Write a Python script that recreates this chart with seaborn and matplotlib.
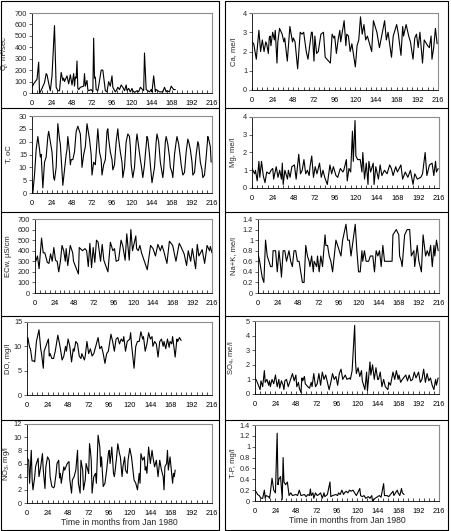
import numpy as np
import pandas as pd
import matplotlib
matplotlib.use('Agg')
import matplotlib.pyplot as plt
import seaborn as sns
from matplotlib.ticker import MultipleLocator

sns.set_style('white')
plt.rcParams['font.family'] = ['Liberation Sans', 'DejaVu Sans']
plt.rcParams['mathtext.fontset'] = 'custom'
plt.rcParams['mathtext.rm'] = 'Liberation Sans'
plt.rcParams['mathtext.it'] = 'Liberation Sans'

# Q, m3/sec
q_month = [0, 2, 4, 6, 8, 9, 10, 12, 15, 17, 18, 21, 22, 24, 27, 29, 31, 33, 35, 37, 38, 39, 42, 44, 46,
           48, 50, 51, 52, 53, 54, 55, 56, 58, 62, 63, 64, 66, 67, 68, 71, 73, 74, 75, 76, 77, 79, 80, 83,
           85, 88, 90, 92, 94, 96, 97, 100, 101, 103, 105, 107, 109, 111, 113, 114, 116, 118, 120, 121,
           123, 126, 128, 130, 134, 135, 137, 139, 141, 143, 144, 146, 148, 149, 151, 153, 157, 159, 161,
           162, 165, 167, 170, 172]
q_val = [50, 80, 100, 120, 270, 0, 10, 40, 90, 170, 160, 50, 20, 150, 590, 50, 20, 20, 180, 110, 130, 100,
         150, 80, 160, 70, 170, 60, 140, 130, 280, 40, 30, 50, 60, 170, 60, 110, 30, 20, 30, 10, 480, 130,
         140, 30, 20, 60, 200, 200, 20, 10, 100, 60, 150, 50, 10, 20, 50, 30, 70, 50, 20, 70, 20, 40, 10,
         40, 20, 5, 20, 10, 50, 20, 350, 30, 20, 10, 30, 10, 150, 10, 30, 20, 10, 10, 50, 10, 20, 10, 60,
         30, 30][:93]

# Ca, me/l
ca_month = [0, 2, 5, 8, 10, 12, 14, 16, 17, 19, 20, 21, 22, 24, 26, 27, 29, 30, 32, 35, 37, 38, 41, 44,
            47, 48, 50, 53, 56, 58, 60, 63, 65, 69, 70, 72, 73, 75, 77, 80, 83, 85, 87, 91, 93, 95, 96, 98,
            100, 102, 103, 107, 109, 110, 112, 114, 116, 120, 122, 124, 126, 128, 130, 132, 134, 139, 141,
            143, 145, 148, 154, 156, 158, 162, 164, 168, 170, 173, 175, 176, 179, 182, 184, 187, 189, 191,
            193, 195, 198, 200, 204, 206, 208, 209, 211, 213, 215]
ca_val = [2.5, 2.4, 1.6, 3.1, 2.0, 2.6, 2.0, 2.5, 2.4, 1.9, 2.7, 2.8, 2.3, 3.0, 2.6, 3.1, 1.4, 2.5, 3.2,
          2.9, 2.5, 2.7, 1.5, 3.3, 2.5, 2.7, 2.5, 1.1, 3.0, 2.9, 3.0, 2.0, 1.6, 3.0, 3.0, 1.5, 2.8, 1.9,
          2.0, 2.9, 3.0, 1.7, 1.6, 1.4, 2.9, 2.7, 2.8, 1.9, 2.6, 3.1, 2.5, 3.6, 2.3, 2.9, 2.8, 2.0, 2.4,
          1.2, 2.3, 2.6, 3.8, 2.9, 3.4, 2.6, 2.8, 2.0, 3.6, 3.3, 3.0, 2.2, 3.6, 2.6, 3.0, 1.7, 2.8, 3.4,
          2.9, 1.8, 3.3, 2.8, 3.4, 2.8, 2.5, 1.6, 2.7, 2.9, 2.2, 3.0, 1.4, 2.6, 2.3, 2.2, 2.8, 1.6, 2.2,
          3.2, 2.4]

# T, oC
t_month = [0, 1, 3, 5, 7, 9, 10, 11, 13, 15, 17, 19, 20, 22, 24, 26, 27, 29, 31, 33, 34, 36, 37, 38, 39,
           41, 42, 43, 45, 46, 47, 49, 51, 53, 55, 57, 58, 59, 60, 62, 64, 66, 67, 69, 71, 72, 74, 76, 78,
           79, 81, 83, 84, 86, 88, 90, 91, 92, 94, 96, 97, 99, 101, 103, 104, 106, 108, 109, 111, 113, 115,
           117, 118, 119, 121, 123, 125, 126, 128, 130, 131, 133, 135, 136, 138, 139, 141, 142, 144, 145,
           147, 149, 150, 152, 154, 155, 157, 158, 160, 161, 163, 165, 166, 168, 169, 171, 173, 174, 176,
           178, 179, 181, 183, 185, 187, 188, 190, 192, 193, 195, 197, 199, 200, 202, 204, 205, 207, 209,
           211, 212, 214, 215]
t_val = [5, 0, 7, 17, 22, 17, 14, 15, 2, 12, 14, 22, 24, 20, 16, 6, 5, 10, 27, 21, 19, 8, 3, 6, 9, 15, 17,
         22, 16, 11, 13, 13, 16, 24, 26, 24, 23, 17, 10, 15, 18, 27, 25, 21, 15, 7, 12, 11, 20, 25, 16, 13,
         7, 11, 13, 24, 25, 21, 16, 13, 9, 11, 20, 25, 21, 16, 12, 6, 10, 20, 23, 22, 18, 11, 6, 10, 20, 23,
         18, 13, 11, 6, 11, 15, 22, 21, 15, 11, 4, 6, 10, 20, 23, 20, 12, 10, 6, 9, 20, 22, 19, 14, 10, 8,
         6, 15, 20, 22, 19, 14, 11, 7, 8, 16, 21, 20, 17, 12, 7, 8, 15, 20, 19, 12, 9, 6, 7, 14, 22, 21, 18,
         12]

# Mg, me/l
mg_month = [0, 3, 4, 6, 8, 9, 11, 13, 15, 17, 20, 22, 24, 25, 28, 30, 32, 34, 35, 36, 38, 41, 42, 44, 46,
            49, 51, 54, 56, 58, 60, 62, 64, 66, 67, 69, 71, 73, 75, 78, 80, 82, 84, 87, 90, 92, 94, 97, 99,
            102, 105, 106, 109, 110, 112, 114, 116, 117, 119, 120, 122, 125, 127, 128, 130, 132, 134, 135,
            137, 140, 141, 143, 146, 148, 150, 153, 156, 159, 161, 163, 166, 168, 172, 174, 177, 180, 183,
            186, 188, 191, 195, 197, 200, 202, 205, 208, 210, 212, 213, 215]
mg_val = [1.1, 0.8, 1.0, 0.4, 1.5, 0.6, 1.5, 0.7, 0.3, 0.9, 0.8, 1.0, 1.1, 0.5, 1.2, 0.6, 1.0, 0.5, 1.4,
          0.2, 1.0, 0.5, 1.0, 0.6, 1.2, 1.3, 0.5, 1.9, 0.8, 1.0, 1.6, 0.8, 1.0, 0.7, 1.2, 1.8, 0.6, 1.2,
          0.8, 1.4, 0.6, 1.0, 0.6, 0.2, 1.3, 0.8, 1.2, 0.7, 0.6, 1.1, 0.9, 1.0, 1.6, 0.4, 1.1, 0.9, 3.2,
          1.5, 3.8, 1.8, 1.6, 1.6, 0.9, 2.0, 0.5, 1.4, 0.2, 1.5, 0.9, 1.4, 0.2, 1.2, 0.5, 1.3, 0.7, 1.0,
          0.8, 1.3, 1.1, 0.7, 1.2, 0.9, 1.3, 0.5, 0.9, 0.6, 1.0, 0.2, 0.8, 0.5, 0.6, 0.8, 2.0, 0.7, 1.3,
          1.4, 0.7, 1.5, 0.9, 1.1]

# ECw, uS/cm
ec_month = [0, 1, 3, 5, 8, 10, 12, 15, 17, 19, 21, 23, 25, 27, 29, 31, 33, 35, 37, 38, 40, 43, 46, 47,
            53, 54, 58, 61, 63, 65, 67, 69, 71, 73, 75, 77, 80, 82, 84, 89, 92, 95, 97, 99, 102, 105, 107,
            110, 112, 115, 117, 119, 123, 124, 126, 128, 130, 137, 141, 144, 147, 150, 153, 155, 157, 161,
            164, 168, 172, 176, 178, 182, 185, 187, 190, 192, 196, 198, 200, 202, 204, 207, 210, 213, 214,
            216]
ec_val = [380, 300, 350, 230, 520, 380, 380, 290, 280, 370, 300, 430, 310, 300, 200, 300, 450, 400, 300,
          420, 260, 450, 380, 300, 180, 430, 400, 420, 400, 250, 470, 240, 430, 290, 500, 480, 300, 460,
          310, 200, 480, 400, 420, 300, 310, 500, 450, 310, 560, 310, 600, 400, 540, 420, 400, 450, 380,
          220, 450, 420, 350, 460, 400, 450, 400, 280, 490, 450, 300, 470, 440, 370, 260, 400, 300, 420,
          230, 460, 350, 380, 410, 280, 450, 400, 440, 380]

# Na+K, me/l
nk_month = [0, 2, 5, 7, 9, 11, 13, 15, 17, 18, 21, 23, 25, 27, 28, 30, 32, 34, 37, 39, 41, 43, 45, 47,
            49, 51, 53, 55, 57, 59, 61, 62, 64, 66, 67, 70, 71, 73, 75, 77, 80, 81, 83, 85, 87, 89, 93, 95,
            97, 99, 101, 105, 107, 109, 111, 116, 118, 120, 122, 124, 125, 127, 129, 132, 134, 137, 139,
            141, 143, 145, 147, 149, 151, 156, 160, 161, 165, 168, 169, 171, 172, 175, 178, 181, 183, 186,
            187, 190, 192, 195, 197, 200, 202, 204, 206, 208, 210, 211, 213, 215]
nk_val = [0.75, 0.6, 0.3, 0.2, 1.0, 0.7, 0.6, 0.5, 0.5, 0.8, 0.8, 0.4, 0.8, 0.5, 0.3, 0.8, 0.8, 0.6, 0.8,
          0.6, 0.5, 0.8, 0.8, 0.6, 0.6, 0.4, 0.2, 0.2, 0.9, 0.7, 0.6, 0.5, 0.7, 0.4, 0.6, 0.5, 0.7, 0.4,
          0.7, 0.5, 1.1, 0.9, 0.9, 0.7, 0.6, 0.4, 1.0, 0.9, 0.8, 0.7, 1.0, 1.3, 1.0, 1.0, 0.7, 1.3, 0.8,
          0.4, 0.4, 0.8, 0.6, 0.8, 0.6, 0.6, 0.7, 0.7, 0.4, 0.8, 0.7, 0.8, 0.5, 0.9, 0.6, 0.6, 0.6, 1.1,
          1.2, 1.1, 0.7, 0.6, 0.5, 1.1, 1.2, 1.2, 0.7, 0.8, 0.5, 0.9, 0.6, 0.4, 1.1, 0.7, 0.8, 0.7, 0.9,
          0.5, 0.9, 0.7, 1.0, 0.8]

# DO, mg/l
do_month = [0, 1, 3, 4, 6, 8, 9, 11, 14, 16, 17, 19, 20, 22, 25, 26, 27, 29, 31, 33, 36, 38, 39, 41, 43,
            45, 46, 48, 50, 52, 54, 55, 57, 59, 61, 63, 64, 67, 68, 70, 72, 74, 76, 78, 83, 85, 87, 89, 91,
            93, 95, 98, 100, 102, 104, 106, 108, 110, 112, 113, 115, 117, 120, 121, 122, 125, 127, 129, 131,
            133, 135, 136, 138, 140, 142, 144, 146, 147, 149, 151, 153, 155, 157, 159, 160, 162, 164, 166,
            167, 169, 170, 173, 175, 176, 178, 180]
do_val = [10.5, 11.8, 9.8, 9.5, 7.0, 7.0, 6.8, 11.0, 13.4, 9.5, 8.5, 5.5, 9.0, 10.0, 11.5, 8.0, 8.5, 7.5,
          7.5, 9.0, 12.3, 10.5, 9.5, 7.2, 8.0, 10.0, 9.0, 11.5, 10.0, 6.8, 9.5, 9.0, 11.0, 10.5, 8.0, 7.5,
          8.5, 7.2, 8.0, 11.0, 8.5, 9.5, 8.0, 8.5, 11.8, 9.5, 10.0, 8.5, 6.5, 8.5, 9.0, 12.5, 11.0, 9.0,
          11.5, 11.8, 10.5, 11.5, 11.0, 12.0, 9.0, 11.0, 11.5, 12.8, 10.5, 5.5, 10.0, 11.0, 11.0, 13.0,
          11.5, 12.0, 9.0, 10.5, 12.8, 11.5, 12.0, 10.0, 11.0, 10.5, 7.8, 11.0, 11.5, 10.0, 11.0, 9.5, 11.5,
          9.8, 11.0, 10.5, 12.0, 7.8, 11.5, 11.0, 11.8, 11.2]

# SO4, me/l
so_month = [0, 2, 4, 6, 7, 9, 11, 12, 14, 16, 17, 18, 20, 22, 24, 26, 28, 29, 31, 33, 34, 35, 37, 39, 44,
            46, 48, 49, 51, 52, 54, 55, 56, 58, 59, 62, 64, 66, 67, 69, 71, 73, 75, 77, 79, 81, 83, 85, 87,
            89, 91, 93, 95, 97, 98, 99, 101, 103, 106, 108, 111, 112, 114, 117, 118, 119, 121, 123, 125,
            126, 129, 131, 132, 135, 136, 138, 140, 142, 144, 145, 147, 149, 151, 153, 156, 157, 159, 162,
            164, 166, 168, 169, 171, 173, 177, 179, 181, 183, 185, 187, 189, 192, 194, 196, 198, 200, 202,
            204, 206, 208, 210, 212, 213, 215]
so_val = [1.1, 0.9, 0.6, 0.3, 0.9, 0.5, 1.6, 0.8, 1.0, 0.6, 0.9, 0.5, 1.0, 0.7, 1.3, 0.5, 1.0, 0.4, 0.9,
          0.6, 0.3, 0.9, 1.0, 0.5, 1.4, 0.9, 1.3, 0.5, 0.8, 0.4, 0.1, 1.1, 0.9, 1.2, 0.7, 0.5, 0.4, 0.8,
          0.5, 1.4, 0.5, 0.7, 1.4, 0.6, 1.5, 1.0, 1.3, 0.8, 0.3, 0.8, 1.4, 1.0, 1.2, 0.6, 1.0, 1.4, 1.7,
          1.0, 1.3, 1.0, 1.1, 1.0, 1.6, 4.7, 2.2, 1.4, 1.8, 1.2, 1.6, 0.9, 0.3, 1.5, 0.2, 2.2, 1.3, 2.0,
          1.0, 1.8, 1.0, 1.0, 1.5, 0.5, 1.0, 0.5, 0.3, 0.8, 0.6, 1.5, 1.0, 1.6, 1.0, 1.3, 0.8, 1.0, 1.3,
          0.9, 1.3, 0.9, 1.0, 1.5, 1.1, 1.5, 0.8, 1.0, 1.7, 0.8, 1.4, 0.9, 1.1, 0.6, 0.3, 1.0, 0.6, 1.1]

# NO3, mg/l
no_month = [0, 2, 3, 5, 6, 7, 9, 10, 11, 13, 14, 16, 18, 19, 21, 22, 24, 26, 27, 29, 31, 32, 34, 35, 37,
            38, 39, 40, 43, 44, 47, 49, 50, 52, 53, 55, 57, 59, 60, 62, 63, 65, 66, 68, 69, 71, 72, 73, 74,
            75, 76, 78, 80, 81, 83, 85, 86, 87, 89, 91, 93, 95, 96, 97, 99, 101, 102, 103, 105, 106, 108,
            109, 111, 112, 114, 115, 117, 118, 120, 122, 125, 127, 129, 131, 132, 133, 135, 137, 138, 139,
            140, 142, 144, 146, 147, 149, 151, 153, 155, 157, 159, 160, 161, 163, 164, 165, 167, 170, 171,
            172, 173]
no_val = [6.8, 6.5, 3.0, 8.0, 3.5, 2.0, 4.0, 5.5, 6.0, 6.8, 4.0, 5.5, 7.5, 5.0, 2.2, 5.5, 7.0, 6.5, 4.0,
          2.5, 2.3, 2.5, 4.5, 6.0, 6.5, 3.8, 4.5, 3.0, 5.5, 5.0, 6.0, 6.3, 3.5, 1.5, 3.5, 4.0, 5.0, 8.0,
          3.0, 1.5, 6.5, 5.0, 2.0, 3.5, 6.0, 5.0, 4.5, 9.0, 8.0, 6.5, 1.5, 4.0, 4.5, 3.0, 10.3, 8.5, 5.5,
          7.0, 2.5, 3.0, 5.0, 7.5, 8.0, 6.0, 8.5, 4.5, 4.0, 5.0, 7.5, 9.0, 7.5, 7.0, 4.0, 5.5, 7.0, 5.0,
          4.5, 6.5, 8.3, 7.0, 3.5, 3.0, 2.0, 4.5, 3.0, 7.5, 6.5, 7.0, 5.0, 5.5, 4.5, 8.5, 6.0, 8.0, 7.0,
          5.5, 6.5, 4.0, 6.5, 5.0, 4.0, 2.0, 5.5, 6.0, 8.0, 5.0, 7.0, 3.0, 4.5, 4.0, 5.0]

# T-P, mg/l
tp_month = [0, 2, 3, 5, 7, 9, 11, 12, 13, 16, 17, 18, 20, 22, 24, 26, 27, 28, 30, 32, 33, 34, 36, 38, 40,
            42, 44, 48, 50, 52, 54, 58, 60, 62, 64, 65, 66, 68, 69, 71, 73, 75, 77, 79, 81, 82, 85, 88, 89,
            91, 95, 97, 98, 100, 102, 104, 105, 107, 109, 111, 113, 115, 117, 119, 123, 124, 126, 128, 130,
            133, 135, 137, 138, 141, 144, 146, 148, 151, 152, 155, 157, 159, 162, 163, 165, 167, 168, 170,
            172, 173, 175]
tp_val = [0.2, 0.15, 0.12, 0.1, 0.05, 0.05, 0.2, 0.05, 0.1, 0.08, 0.05, 0.15, 0.42, 0.2, 0.15, 1.25, 0.3,
          0.4, 0.45, 0.03, 0.8, 0.35, 0.3, 0.35, 0.1, 0.15, 0.1, 0.12, 0.1, 0.2, 0.1, 0.12, 0.08, 0.12,
          0.1, 0.22, 0.1, 0.15, 0.05, 0.15, 0.1, 0.12, 0.15, 0.05, 0.15, 0.08, 0.12, 0.35, 0.08, 0.1, 0.12,
          0.1, 0.15, 0.12, 0.2, 0.12, 0.15, 0.18, 0.15, 0.2, 0.18, 0.2, 0.15, 0.1, 0.23, 0.1, 0.08, 0.1,
          0.05, 0.08, 0.05, 0.1, 0.0, 0.05, 0.08, 0.1, 0.07, 0.32, 0.1, 0.1, 0.08, 0.12, 0.18, 0.1, 0.15,
          0.2, 0.15, 0.1, 0.23, 0.15, 0.12]

W, H = 452, 531


def box(l, t, r, b):
    return [l / W, 1 - b / H, (r - l) / W, (b - t) / H]


panels = [
    (q_month[:len(q_val)], q_val, r'Q, m$^3$/sec', 700, 100, '{:.0f}', box(32, 13, 212, 93), False),
    (ca_month, ca_val, 'Ca, me/l', 4, 1, '{:.0f}', box(252, 13, 438, 90), False),
    (t_month, t_val, 'T, oC', 30, 5, '{:.0f}', box(32, 116, 212, 193), False),
    (mg_month, mg_val, 'Mg, me/l', 4, 1, '{:.0f}', box(252, 117, 439, 188), False),
    (ec_month, ec_val, r'ECw, µS/cm', 700, 100, '{:.0f}', box(35, 219, 212, 293), False),
    (nk_month, nk_val, 'Na+K, me/l', 1.4, 0.2, '{:g}', box(258, 219, 439, 293), False),
    (do_month, do_val, 'DO, mg/l', 15, 5, '{:.0f}', box(27, 322, 212, 395), False),
    (so_month, so_val, r'SO$_4$, me/l', 5, 1, '{:.0f}', box(255, 321, 439, 394), False),
    (no_month, no_val, r'NO$_3$, mg/l', 12, 2, '{:.0f}', box(27, 424, 212, 503), True),
    (tp_month, tp_val, 'T-P, mg/l', 1.4, 0.2, '{:g}', box(255, 425, 439, 501), True),
]

fig = plt.figure(figsize=(W / 100, H / 100), dpi=100)
fig.patch.set_facecolor('white')

for i, (months, vals, label, ymax, ystep, fmt, pos, xlab) in enumerate(panels):
    ax = fig.add_axes(pos)
    df = pd.DataFrame({'month': months, 'value': vals})
    sns.lineplot(data=df, x='month', y='value', color='black', linewidth=0.8, ax=ax)
    ax.set_xlim(0, 216)
    ax.set_ylim(0, ymax)
    ax.xaxis.set_major_locator(MultipleLocator(24))
    ax.xaxis.set_minor_locator(MultipleLocator(6))
    yt = np.arange(0, ymax + ystep / 2, ystep)
    ax.set_yticks(yt)
    ax.set_yticklabels([fmt.format(round(v, 1)) for v in yt])
    ax.tick_params(axis='x', which='both', direction='in', length=2, width=0.5,
                   labelsize=5.3, pad=5, bottom=True, colors='black')
    ax.tick_params(axis='y', direction='out', length=2, width=0.5, labelsize=5.3, pad=1.5,
                   left=True)
    for side in ['top', 'right']:
        ax.spines[side].set_color('#8c8c8c')
        ax.spines[side].set_linewidth(0.8)
    for side in ['left', 'bottom']:
        ax.spines[side].set_color('black')
        ax.spines[side].set_linewidth(0.6)
    ax.set_ylabel(label, fontsize=5.5)
    # the y label's right edge sits at a fixed pixel column, as in the reference
    label_px = 12 if i % 2 == 0 else 237
    ax.yaxis.set_label_coords((label_px - pos[0] * W) / (pos[2] * W), 0.5)
    if xlab:
        ax.set_xlabel('Time in months from Jan 1980', fontsize=6.2, labelpad=0.5)
    else:
        ax.set_xlabel('')

# panel frames
rows = [1, 108, 212, 316, 420, 530]
for x0, x1 in [(1, 219), (225, 448)]:
    for y in rows:
        fig.add_artist(plt.Line2D([x0 / W, x1 / W], [1 - y / H, 1 - y / H],
                                  color='black', linewidth=0.8))
    for x in (x0, x1):
        fig.add_artist(plt.Line2D([x / W, x / W], [1 - rows[0] / H, 1 - rows[-1] / H],
                                  color='black', linewidth=0.8))

fig.savefig('out.png', dpi=100, facecolor='white')
